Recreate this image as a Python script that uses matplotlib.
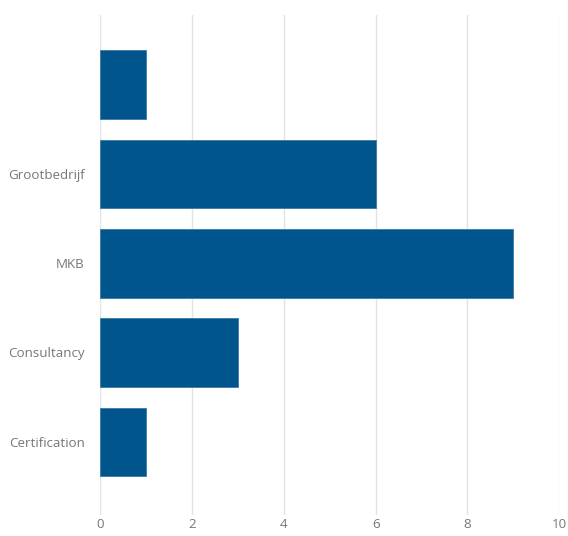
import matplotlib
matplotlib.use("Agg")
import matplotlib.pyplot as plt

# categories from bottom to top
categories = ['Certification', 'Consultancy', 'MKB', 'Grootbedrijf', '']
counts = [1, 3, 9, 6, 1]
xticks = [0, 2, 4, 6, 8, 10]

plt.rcParams['font.family'] = ['Open Sans', 'DejaVu Sans']

fig = plt.figure(figsize=(5.68, 5.36), dpi=100)
ax = fig.add_axes([100 / 568, 1 - 515 / 536, 459.3 / 568, 500 / 536])

ypos = list(range(len(categories)))
ax.barh(ypos, counts, height=0.768, color='#00568C', edgecolor='#3a7aa8', linewidth=0.6, zorder=3)

ax.set_xlim(0, 10)
ax.set_ylim(-0.82, 4.78)
ax.set_xticks(xticks)
ax.set_yticks(ypos)
ax.set_yticklabels(categories)

ax.grid(axis='x', color='#e3e3e3', linewidth=1, zorder=0)
ax.grid(axis='y', visible=False)
for s in ax.spines.values():
    s.set_visible(False)
ax.tick_params(length=0, colors='#777777', labelsize=9.6)
ax.tick_params(axis='x', pad=2)
ax.tick_params(axis='y', pad=11)

fig.savefig('out.png', dpi=100)
